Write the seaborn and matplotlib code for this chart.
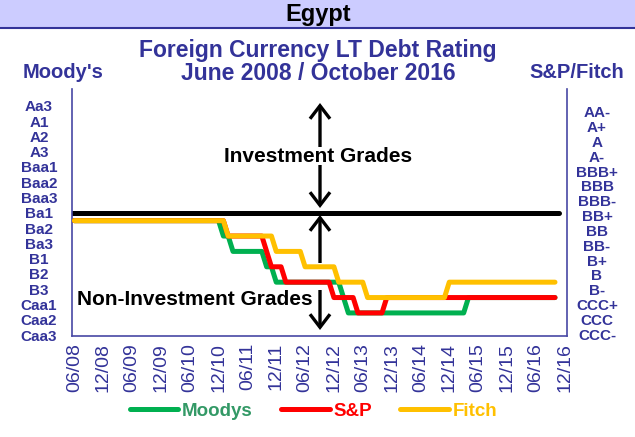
import numpy as np
import pandas as pd
import seaborn as sns
import matplotlib
matplotlib.use("Agg")
import matplotlib.pyplot as plt
from matplotlib.patches import Rectangle, FancyArrowPatch
from matplotlib.lines import Line2D

# ---------------- data ----------------
moodys_scale = ["Aa3", "A1", "A2", "A3", "Baa1", "Baa2", "Baa3", "Ba1", "Ba2", "Ba3",
                "B1", "B2", "B3", "Caa1", "Caa2", "Caa3"]
sp_scale = ["AA-", "A+", "A", "A-", "BBB+", "BBB", "BBB-", "BB+", "BB", "BB-",
            "B+", "B", "B-", "CCC+", "CCC", "CCC-"]

moodys_dates = ["2008-06", "2011-01", "2011-03", "2011-10", "2011-12", "2013-02", "2013-03", "2015-04"]
moodys_ratings = ["Ba1", "Ba2", "Ba3", "B1", "B2", "B3", "Caa1", "B3"]
sp_dates = ["2008-06", "2011-02", "2011-10", "2011-11", "2012-02", "2012-12", "2013-05", "2013-11"]
sp_ratings = ["BB+", "BB", "BB-", "B+", "B", "B-", "CCC+", "B-"]
fitch_dates = ["2008-06", "2011-02", "2011-12", "2012-06", "2013-01", "2013-07", "2014-12"]
fitch_ratings = ["BB+", "BB", "BB-", "B+", "B", "B-", "B"]
last_obs = "2016-10"
axis_start, axis_end = "2008-06", "2016-12"
threshold = 6.5  # between Baa3/BBB- and Ba1/BB+

agencies = ["Moodys", "S&P", "Fitch"]
line_colors = {"Moodys": "#00B050", "S&P": "#FF0000", "Fitch": "#FFC000"}
text_colors = {"Moodys": "#339966", "S&P": "#FF0000", "Fitch": "#FFC000"}

# ---------------- build monthly series ----------------
start = pd.Period(axis_start, freq="M")

def month_pos(p):
    return (p.year - start.year) * 12 + (p.month - start.month)

def expand(name, dates, ratings, scale):
    s = pd.Series([scale.index(r) for r in ratings], index=pd.PeriodIndex(dates, freq="M"))
    rng = pd.period_range(dates[0], last_obs, freq="M")
    s = s.reindex(rng).ffill()
    return pd.DataFrame({"pos": [month_pos(p) for p in rng], "level": s.values, "agency": name})

df = pd.concat([
    expand("Moodys", moodys_dates, moodys_ratings, moodys_scale),
    expand("S&P", sp_dates, sp_ratings, sp_scale),
    expand("Fitch", fitch_dates, fitch_ratings, sp_scale),
], ignore_index=True)

axis_months = pd.period_range(axis_start, axis_end, freq="M")
n_months = len(axis_months)

# ---------------- figure ----------------
sns.set_style("white")
plt.rcParams["font.family"] = ["Liberation Sans", "DejaVu Sans"]
W, H = 635, 437
fig = plt.figure(figsize=(W / 100, H / 100), dpi=100)

def fx(x):
    return x / W

def fy(y):
    return 1 - y / H

NAVY = "#333399"
AXC = "#4848a4"

# title bar
fig.patches.append(Rectangle((0, fy(28)), 1, 28 / H, transform=fig.transFigure,
                             facecolor="#CCCCFF", edgecolor="none", zorder=0))
fig.lines.append(Line2D([0, 1], [fy(28), fy(28)], transform=fig.transFigure,
                        color=NAVY, lw=1.5))
fig.text(fx(318), fy(14), "Egypt", ha="center", va="center", fontsize=17,
         fontweight="bold", color="black")

fig.text(fx(318), fy(50), "Foreign Currency LT Debt Rating", ha="center", va="center",
         fontsize=16.5, fontweight="bold", color=NAVY)
fig.text(fx(318), fy(74), "June 2008 / October 2016", ha="center", va="center",
         fontsize=16.5, fontweight="bold", color=NAVY)
fig.text(fx(63), fy(72), "Moody's", ha="center", va="center", fontsize=14.5,
         fontweight="bold", color=NAVY)
fig.text(fx(577), fy(72), "S&P/Fitch", ha="center", va="center", fontsize=14.5,
         fontweight="bold", color=NAVY)

ax = fig.add_axes([fx(72), fy(336), (567 - 72) / W, (336 - 89) / H])

ax.axhline(threshold, xmin=0, xmax=(559 - 72) / (567 - 72), color="black", lw=3.6, zorder=1)

sns.lineplot(data=df, x="pos", y="level", hue="agency", hue_order=agencies,
             palette=line_colors, lw=3.6, legend=False, ax=ax, zorder=3,
             solid_joinstyle="round", solid_capstyle="round")

ax.set_xlim(-0.5, n_months - 0.5)
ax.set_ylim(14.5, -1.56)
ax.set_xlabel("")
ax.set_ylabel("")
ax.set_yticks([])

label_pos = list(range(0, n_months, 6))
ax.set_xticks(label_pos)
ax.set_xticklabels([axis_months[i].strftime("%m/%y") for i in label_pos],
                   rotation=90, fontsize=14, color=NAVY)
ax.set_xticks(np.arange(-0.5, n_months - 1, 4), minor=True)
ax.tick_params(axis="x", which="major", length=0, pad=5)
ax.tick_params(axis="x", which="minor", length=4, width=1.1, color=AXC, direction="out")

for side in ["left", "right", "bottom"]:
    ax.spines[side].set_visible(True)
    ax.spines[side].set_color(AXC)
    ax.spines[side].set_linewidth(1.2)
ax.spines["top"].set_visible(False)

# rating labels
for i, lab in enumerate(moodys_scale):
    fig.text(fx(39), fy(107.3 + i * 15.29), lab, ha="center", va="center",
             fontsize=11, fontweight="bold", color=NAVY)
for i, lab in enumerate(sp_scale):
    fig.text(fx(597), fy(113.3 + i * 14.83), lab, ha="center", va="center",
             fontsize=11, fontweight="bold", color=NAVY)

# annotations
fig.text(fx(318), fy(161.5), "Investment Grades", ha="center", va="baseline",
         fontsize=15, fontweight="bold", color="black")
fig.text(fx(195), fy(305), "Non-Investment Grades", ha="center", va="baseline",
         fontsize=15, fontweight="bold", color="black")

def arrow(y0, y1):
    a = FancyArrowPatch((fx(320), fy(y0)), (fx(320), fy(y1)), transform=fig.transFigure,
                        arrowstyle="->,head_length=0.47,head_width=0.36",
                        mutation_scale=20, lw=2.4, color="black",
                        shrinkA=0, shrinkB=0, capstyle="butt", joinstyle="miter")
    fig.patches.append(a)

arrow(147, 103)
arrow(165, 208)
arrow(263, 215)
arrow(290, 330)

# legend
handles = [Line2D([], [], color=line_colors[a], lw=3.6, solid_capstyle="round") for a in agencies]
leg = fig.legend(handles, agencies, loc="center", bbox_to_anchor=(fx(313.5), fy(411)),
                 ncol=3, frameon=False, handlelength=2.6, handletextpad=0.2,
                 columnspacing=1.5, prop={"weight": "bold", "size": 13.5})
for t, a in zip(leg.get_texts(), agencies):
    t.set_color(text_colors[a])

fig.savefig("out.png", dpi=100)
